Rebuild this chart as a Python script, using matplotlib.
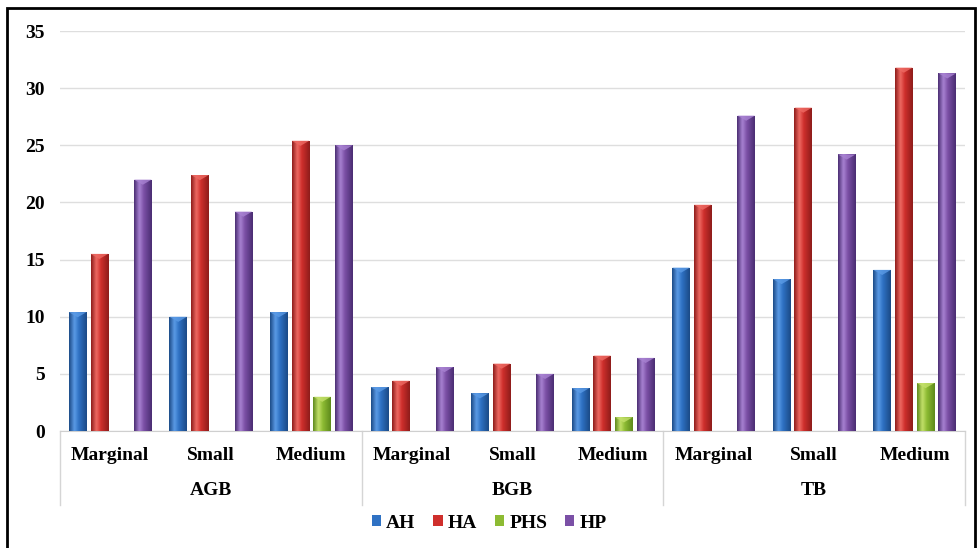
import numpy as np
import matplotlib.pyplot as plt
from matplotlib.colors import LinearSegmentedColormap
from matplotlib.patches import Rectangle

plt.rcParams['font.family'] = ['Liberation Serif', 'DejaVu Serif']
plt.rcParams['font.weight'] = 'bold'

groups = ['AGB', 'BGB', 'TB']
sizes = ['Marginal', 'Small', 'Medium']
series = ['AH', 'HA', 'PHS', 'HP']

AH = [10.4, 10.0, 10.4, 3.85, 3.3, 3.75, 14.3, 13.3, 14.1]
HA = [15.5, 22.4, 25.4, 4.4, 5.9, 6.6, 19.8, 28.3, 31.8]
PHS = [0, 0, 3.0, 0, 0, 1.2, 0, 0, 4.2]
HP = [22.0, 19.2, 25.0, 5.6, 5.0, 6.4, 27.6, 24.2, 31.3]

# dark edge, base, highlight for each series
shades = {
    'AH': ('#1b4a86', '#2f72c4', '#5b9be6'),
    'HA': ('#8e1c1a', '#cf2f2c', '#ee6a63'),
    'PHS': ('#5e8a1c', '#8dbb33', '#c3e06a'),
    'HP': ('#4a2d72', '#7b50a6', '#a882d2'),
}

fig = plt.figure(figsize=(9.78, 5.48), dpi=100)
ax = fig.add_axes([0.0613, 0.2135, 0.9254, 0.7299])

x = np.arange(len(AH))
slot = 0.216
width = 0.175
grad = np.linspace(0, 1, 64).reshape(1, -1)

for i, (name, vals) in enumerate(zip(series, [AH, HA, PHS, HP])):
    dark, base, light = shades[name]
    cmap = LinearSegmentedColormap.from_list(
        name, [(0, dark), (0.3, light), (0.55, base), (1, dark)])
    bars = ax.bar(x + (i - 1.5) * slot, vals, width, color=base,
                  label=name, zorder=2)
    for b in bars:
        h = b.get_height()
        if h <= 0:
            continue
        bx = b.get_x()
        im = ax.imshow(grad, cmap=cmap, aspect='auto', zorder=3,
                       extent=(bx, bx + width, 0, h), interpolation='bicubic')
        im.set_clip_path(b)
        # lighter bevel on the top face
        ax.fill([bx, bx + width, bx + width / 2], [h, h, h - 0.45],
                color=light, alpha=0.8, zorder=4, linewidth=0)

ax.set_xlim(-0.5, 8.5)
ax.set_ylim(0, 35)
ax.set_yticks(range(0, 36, 5))
ax.tick_params(axis='y', length=0, labelsize=14, pad=11)
ax.yaxis.grid(True, color='#dedede', linewidth=1)
ax.set_axisbelow(True)
ax.set_xticks([])
for s in ['top', 'right', 'left']:
    ax.spines[s].set_visible(False)
ax.spines['bottom'].set_color('#cfcfcf')

trans = ax.get_xaxis_transform()
for k in x:
    ax.text(k, -0.06, sizes[k % 3], transform=trans, ha='center',
            va='center', fontsize=14)
for g, name in enumerate(groups):
    ax.text(g * 3 + 1, -0.15, name, transform=trans, ha='center',
            va='center', fontsize=14)
for sep in [-0.5, 2.5, 5.5, 8.5]:
    ax.plot([sep, sep], [0, -0.185], transform=trans, color='#d5d5d5',
            linewidth=1, clip_on=False)

handles = [Rectangle((0, 0), 1, 1, facecolor=shades[n][1]) for n in series]
fig.legend(handles, series, loc='center', bbox_to_anchor=(0.5, 0.045),
           ncol=4, frameon=False, fontsize=14, handlelength=0.5,
           handleheight=0.5, handletextpad=0.25, columnspacing=0.9)

fig.patches.append(Rectangle((0.007, -0.02), 0.99, 1.005, transform=fig.transFigure,
                             fill=False, edgecolor='black', linewidth=2))

fig.savefig('out.png', dpi=100)
